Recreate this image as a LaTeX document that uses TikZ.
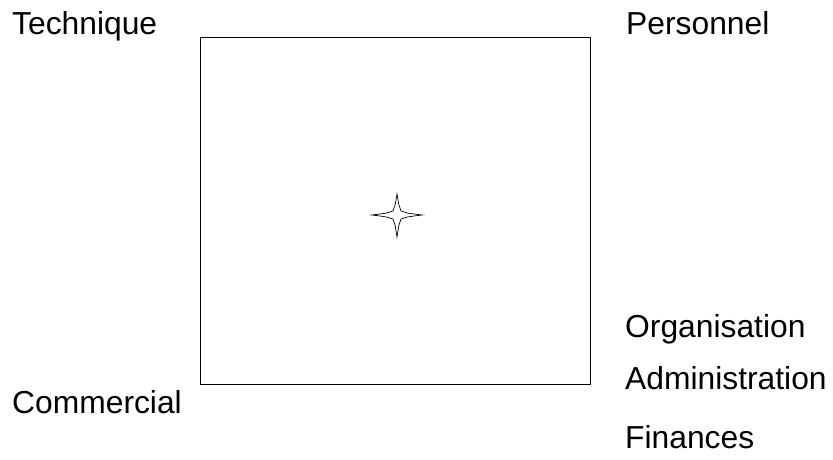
\documentclass[tikz,border=0pt]{standalone}
\usepackage{fontspec}
\setmainfont{Liberation Sans}

\begin{document}
\begin{tikzpicture}[x=1pt, y=-1pt, every node/.style={font=\fontsize{31.8}{36}\selectfont, inner sep=0pt, anchor=base west}]
      \useasboundingbox (0, 0) rectangle (833, 459);
      \draw[line width=0.9pt] (200.5, 37) rectangle (590, 384);
      \draw[line width=0.7pt] (372, 215) .. controls (388, 213) .. (393, 211) .. controls (395, 206) .. (397, 194) .. controls (399, 206) .. (401, 211) .. controls (406, 213) .. (422, 215) .. controls (406, 217) .. (401, 219) .. controls (399, 224) .. (397, 237) .. controls (395, 224) .. (393, 219) .. controls (388, 217) .. cycle;
      \node (tech) at (12, 34) {Technique};
      \node (pers) at (626, 34) {Personnel};
      \node (comm) at (12, 413) {Commercial};
      \node (orga) at (625, 337) {Organisation};
      \node (admi) at (625, 389) {Administration};
      \node (fina) at (625, 448) {Finances};
    \end{tikzpicture}
\end{document}
